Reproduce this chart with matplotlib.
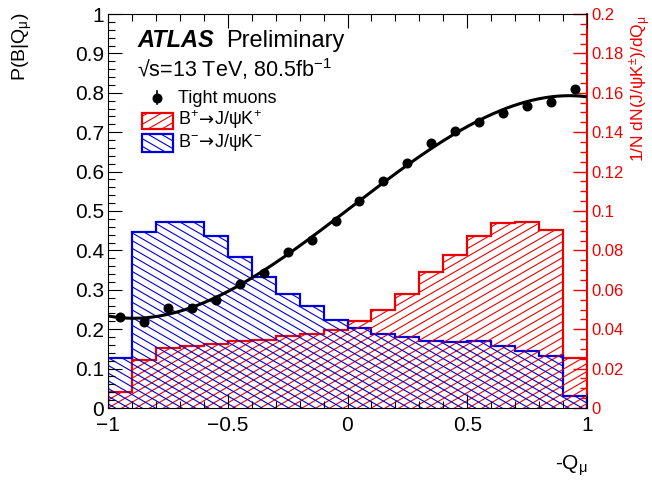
import numpy as np
import matplotlib
matplotlib.use("Agg")
import matplotlib.pyplot as plt
from matplotlib.ticker import MultipleLocator, FuncFormatter
from matplotlib.patches import Rectangle
from matplotlib.lines import Line2D
from matplotlib.collections import LineCollection
from matplotlib.transforms import IdentityTransform

plt.rcParams['font.family'] = ['Liberation Sans', 'DejaVu Sans']
plt.rcParams['mathtext.fontset'] = 'custom'
plt.rcParams['mathtext.rm'] = 'Liberation Sans'
plt.rcParams['mathtext.it'] = 'Liberation Sans'
plt.rcParams['mathtext.bf'] = 'Liberation Sans:bold'
plt.rcParams['axes.unicode_minus'] = True

# ---- data ----
bin_edges = [-1.0, -0.9, -0.8, -0.7, -0.6, -0.5, -0.4, -0.3, -0.2, -0.1, 0.0,
             0.1, 0.2, 0.3, 0.4, 0.5, 0.6, 0.7, 0.8, 0.9, 1.0]
bplus_hist = [0.0080, 0.0244, 0.0306, 0.0316, 0.0324, 0.0340, 0.0346, 0.0368, 0.0376, 0.0396,
              0.0444, 0.0498, 0.0578, 0.0688, 0.0776, 0.0874, 0.0938, 0.0942, 0.0904, 0.0252]
bminus_hist = [0.0252, 0.0892, 0.0946, 0.0946, 0.0874, 0.0768, 0.0666, 0.0578, 0.0520, 0.0446,
               0.0408, 0.0378, 0.0362, 0.0342, 0.0334, 0.0340, 0.0316, 0.0290, 0.0266, 0.0060]
q_points = [-0.95, -0.85, -0.75, -0.65, -0.55, -0.45, -0.35, -0.25, -0.15, -0.05,
            0.05, 0.15, 0.25, 0.35, 0.45, 0.55, 0.65, 0.75, 0.85, 0.95]
p_points = [0.232, 0.219, 0.253, 0.253, 0.274, 0.315, 0.343, 0.395, 0.426, 0.475,
            0.526, 0.577, 0.621, 0.673, 0.703, 0.725, 0.750, 0.767, 0.777, 0.810]

RED = '#ee0000'
BLUE = '#0000dd'

W, H = 652, 483
fig = plt.figure(figsize=(W / 100, H / 100), dpi=100)

def fx(px):
    return px / W

def fy(py):
    return 1 - py / H

def angled_hatch(clip_patch, angle_deg, spacing_px, color, lw=0.8, zorder=1):
    """ROOT-style angled hatching, drawn in display pixels and clipped to a patch."""
    t = np.tan(np.radians(angle_deg))
    span = abs(t) * W + H
    segs = []
    for c in np.arange(-span, span + H, spacing_px):
        segs.append([(0, c), (W, c + t * W)])
    lc = LineCollection(segs, colors=color, linewidths=lw, transform=IdentityTransform(),
                        zorder=zorder)
    lc.set_clip_path(clip_patch)
    fig.add_artist(lc)
    return lc

ax1 = fig.add_axes([fx(108), fy(408), fx(587) - fx(108), fy(14) - fy(408)])
ax2 = ax1.twinx()
ax1.set_zorder(ax2.get_zorder() + 1)
ax1.patch.set_visible(False)

ax1.set_xlim(-1, 1)
ax1.set_ylim(0, 1)
ax2.set_ylim(0, 0.2)

# histograms on right axis (angled hatching clipped to the histogram shapes)
p_plus = ax2.stairs(bplus_hist, bin_edges, fill=True, facecolor='none', edgecolor='none',
                    linewidth=0)
p_minus = ax2.stairs(bminus_hist, bin_edges, fill=True, facecolor='none', edgecolor='none',
                     linewidth=0)
ax2.stairs(bplus_hist, bin_edges, fill=False, edgecolor=RED, linewidth=1.6, zorder=3)
ax2.stairs(bminus_hist, bin_edges, fill=False, edgecolor=BLUE, linewidth=1.6, zorder=3)

# data points + fit
coef = np.polyfit(q_points, p_points, 3)
xf = np.linspace(-1, 1, 300)
ax1.plot(xf, np.polyval(coef, xf), color='black', lw=2.2, zorder=3)
ax1.plot(q_points, p_points, 'o', color='black', ms=6.2, zorder=4)

# ticks
ax1.xaxis.set_major_locator(MultipleLocator(0.5))
ax1.xaxis.set_minor_locator(MultipleLocator(0.1))
ax1.yaxis.set_major_locator(MultipleLocator(0.1))
ax1.yaxis.set_minor_locator(MultipleLocator(0.02))
ax1.xaxis.set_major_formatter(FuncFormatter(lambda v, p: ('%g' % v).replace('-', '\u2212')))
ax1.yaxis.set_major_formatter(FuncFormatter(lambda v, p: '%g' % v))
ax1.tick_params(which='both', direction='in', top=True, right=False, labelsize=15, width=0.8)
ax1.tick_params(which='major', length=10)
ax1.tick_params(which='minor', length=5)
ax1.tick_params(axis='x', which='major', pad=6)
ax1.tick_params(axis='y', which='major', pad=3)
for s in ['left', 'top', 'bottom']:
    ax1.spines[s].set_linewidth(0.8)
ax1.spines['right'].set_visible(False)

ax2.yaxis.set_major_locator(MultipleLocator(0.02))
ax2.yaxis.set_minor_locator(MultipleLocator(0.005))
ax2.yaxis.set_major_formatter(FuncFormatter(lambda v, p: '%g' % round(v, 3)))
ax2.tick_params(which='both', direction='in', colors=RED, labelsize=12, width=1.0)
ax2.tick_params(which='major', length=10, pad=3)
ax2.tick_params(which='minor', length=5)
ax2.spines['right'].set_color(RED)
ax2.spines['right'].set_linewidth(1.5)
for s in ['left', 'top', 'bottom']:
    ax2.spines[s].set_visible(False)

# hatching (histograms)
angled_hatch(p_plus, 30, 8.0, RED)
angled_hatch(p_minus, -30, 7.7, BLUE)

# axis labels
fig.text(fx(588), fy(470), r'-Q$_{\mu}$', fontsize=15, ha='right', va='baseline')
fig.text(fx(22), fy(12), r'P(B|Q$_{\mu}$)', fontsize=14, rotation=90, ha='center', va='top')
fig.text(fx(640), fy(15), '1/N dN(J/\u03c8K$^{\\pm}$)/dQ$_{\\mu}$', fontsize=12.5,
         rotation=90, ha='center', va='top', color=RED)

# ATLAS label
fig.text(fx(137), fy(47), 'ATLAS', fontsize=17, fontweight='bold', fontstyle='italic',
         va='baseline')
fig.text(fx(226), fy(47), 'Preliminary', fontsize=17, va='baseline')
fig.text(fx(137), fy(77), '\u221as=13 TeV, 80.5fb$^{-1}$', fontsize=15.5, va='baseline')

renderer = fig.canvas.get_renderer()

def seq_text(x_px, y_px, pieces, size):
    x = x_px
    for s, fam in pieces:
        t = fig.text(fx(x), fy(y_px), s, fontsize=size, family=fam, va='baseline')
        x += t.get_window_extent(renderer).width

# legend
fig.add_artist(Line2D([fx(157), fx(157)], [fy(91), fy(104)], color='black', lw=1.2,
                      transform=fig.transFigure))
fig.add_artist(Line2D([fx(157)], [fy(97.5)], marker='o', color='black', ms=6.2,
                      transform=fig.transFigure))
fig.text(fx(178), fy(103), 'Tight muons', fontsize=13, va='baseline')

r1 = Rectangle((fx(142), fy(129)), fx(173) - fx(142), fy(113) - fy(129), transform=fig.transFigure,
               facecolor='none', edgecolor=RED, lw=1.6, zorder=3)
fig.add_artist(r1)
angled_hatch(r1, 30, 8.0, RED)
seq_text(178, 125, [('B$^{+}$', 'Liberation Sans'), ('\u2192', 'DejaVu Sans'),
                    ('J/\u03c8K$^{+}$', 'Liberation Sans')], 13)

r2 = Rectangle((fx(142), fy(152)), fx(173) - fx(142), fy(134) - fy(152), transform=fig.transFigure,
               facecolor='none', edgecolor=BLUE, lw=1.6, zorder=3)
fig.add_artist(r2)
angled_hatch(r2, -30, 7.7, BLUE)
seq_text(178, 147, [('B$^{-}$', 'Liberation Sans'), ('\u2192', 'DejaVu Sans'),
                    ('J/\u03c8K$^{-}$', 'Liberation Sans')], 13)

fig.savefig('out.png', dpi=100)
